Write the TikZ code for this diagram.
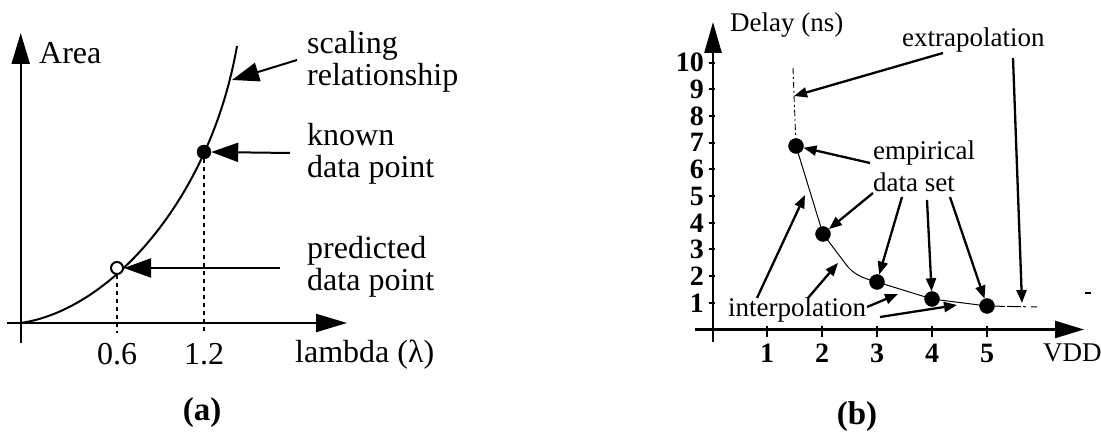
\documentclass[tikz,border=0pt]{standalone}
\usepackage{fontspec}
\setmainfont{Liberation Serif}
\usetikzlibrary{arrows.meta}
\begin{document}
\begin{tikzpicture}[x=1pt,y=-1pt,
  axisA/.style={line width=2.2pt,-{Triangle[length=31pt,width=18pt]}},
  ptrA/.style={line width=2pt,-{Triangle[length=27pt,width=19pt]}},
  ptrB/.style={line width=2.3pt,-{Triangle[length=13pt,width=10pt]}},
  guide/.style={line width=2pt,dash pattern=on 4pt off 4pt},
  txtA/.style={font=\fontsize{32}{32}\selectfont,inner sep=0pt},
  txtB/.style={font=\fontsize{27}{32}\selectfont,inner sep=0pt},
  numB/.style={font=\fontsize{28}{28}\selectfont\bfseries,inner sep=0pt},
  filled/.style={circle,fill=black,draw=black,inner sep=0pt,minimum size=14pt},
  hollow/.style={circle,fill=white,draw=black,line width=2pt,inner sep=0pt,minimum size=12pt},
  capt/.style={font=\fontsize{33}{34}\selectfont\bfseries,inner sep=0pt}]
\useasboundingbox (0,0) rectangle (1101,435);

% ---------------- panel (a) ----------------
\coordinate (ay0) at (20.7,343);
\coordinate (ay1) at (20.7,33);
\coordinate (ax0) at (7,323);
\coordinate (ax1) at (347,323);
\draw[axisA] (ay0) -- (ay1);
\draw[axisA] (ax0) -- (ax1);
\coordinate (c0) at (20.7,323);
\coordinate (c3) at (237,46);
\draw[line width=2pt] (c0) .. controls (110,310) and (210,200) .. (c3);
\coordinate (d6) at (117,333);
\coordinate (d12) at (204,333);
\node[hollow] (pp) at (117,268) {};
\node[filled] (kp) at (204,152) {};
\draw[guide] (pp.south) -- (d6);
\draw[guide] (kp.south) -- (d12);
\node[txtA] (area) [anchor=west] at (39,53) {Area};
\node[txtA] (t06) at (117,354) {0.6};
\node[txtA] (t12) at (204,354) {1.2};
\node[txtA] (lam) [anchor=west] at (295,355) {lambda (λ)};
\node[txtA,align=left,anchor=west] (scal) at (307,62) {scaling\\relationship};
\node[txtA,align=left,anchor=west] (known) at (307,154) {known\\data point};
\node[txtA,align=left,anchor=west] (pred) at (307,267) {predicted\\data point};
\coordinate (sc0) at (297,60);
\coordinate (sc1) at (232,80);
\coordinate (kn0) at (290,153);
\coordinate (pr0) at (280,268);
\draw[ptrA] (sc0) -- (sc1);
\draw[ptrA] (kn0) -- (kp.east);
\draw[ptrA] (pr0) -- (pp.east);
\node[capt] (capa) at (202,413) {(a)};

% ---------------- panel (b) ----------------
\coordinate (by0) at (713,342);
\coordinate (by1) at (713,22);
\coordinate (bx0) at (695,329.5);
\coordinate (bx1) at (1084,329.5);
\draw[axisA,-{Triangle[length=31pt,width=17pt]},line width=2.5pt] (by0) -- (by1);
\draw[axisA,-{Triangle[length=29pt,width=17pt]},line width=2.5pt] (bx0) -- (bx1);
\foreach \v in {1,...,10}{
  \draw[line width=2pt] (709,{329.5-26.67*\v}) -- (715,{329.5-26.67*\v});
  \node[numB,anchor=east] (yl\v) at (704,{329.5-26.67*\v}) {\v};
}
\foreach \v in {1,...,5}{
  \draw[line width=2pt] ({712+55*\v},326) -- ({712+55*\v},337);
  \node[numB] (xl\v) at ({712+55*\v},353) {\v};
}
\node[txtB,anchor=west] (vdd) at (1043,353) {VDD};
\node[txtB,anchor=west] (delay) at (730,25) {Delay (ns)};

\node[filled,minimum size=15pt] (p1) at (796,146) {};
\node[filled,minimum size=15pt] (p2) at (823,234) {};
\node[filled,minimum size=15pt] (p3) at (877,282) {};
\node[filled,minimum size=15pt] (p4) at (932,299) {};
\node[filled,minimum size=15pt] (p5) at (987,306) {};
\coordinate (ex0) at (793,68);
\coordinate (ex1) at (1037,307);
\coordinate (bend) at (848,267);
\draw[line width=0.9pt,dash pattern=on 6pt off 3pt on 2pt off 3pt] (ex0) -- (p1.center);
\draw[line width=1pt] (p1.center) -- (p2.center) -- (bend) .. controls (856,276) and (866,279) .. (p3.center)
  -- (p4.center) -- (p5.center);
\draw[line width=1pt,dash pattern=on 3pt off 5pt on 10pt off 2pt on 14pt off 2pt] (p5.center) -- (ex1);
\coordinate (mk0) at (1085,293);
\coordinate (mk1) at (1091,293);
\draw[line width=2pt] (mk0) -- (mk1);

\node[txtB,anchor=west] (extra) at (902,40) {extrapolation};
\node[txtB,align=left,anchor=west] (emp) at (873,166) {empirical\\data set};
\node[txtB,anchor=west] (interp) at (728,310) {interpolation};

\coordinate (xa0) at (943,53);
\coordinate (xa1) at (794,96);
\coordinate (xb0) at (1013,58);
\coordinate (xb1) at (1022,303);
\draw[ptrB] (xa0) -- (xa1);
\draw[ptrB] (xb0) -- (xb1);

\coordinate (e10) at (870,163);
\coordinate (e20) at (873,193);
\coordinate (e30) at (902,197);
\coordinate (e40) at (927,200);
\coordinate (e50) at (950,197);
\draw[ptrB] (e10) -- (p1);
\draw[ptrB] (e20) -- (p2);
\draw[ptrB] (e30) -- (p3);
\draw[ptrB] (e40) -- (p4);
\draw[ptrB] (e50) -- (p5);

\coordinate (i10) at (757,298);
\coordinate (i11) at (805,195);
\coordinate (i20) at (808,298);
\coordinate (i21) at (838,263);
\coordinate (i30) at (867,307);
\coordinate (i31) at (898,294);
\coordinate (i40) at (880,317);
\coordinate (i41) at (957,305);
\draw[ptrB] (i10) -- (i11);
\draw[ptrB] (i20) -- (i21);
\draw[ptrB] (i30) -- (i31);
\draw[ptrB] (i40) -- (i41);

\node[capt] (capb) at (857,417) {(b)};
\end{tikzpicture}
\end{document}
